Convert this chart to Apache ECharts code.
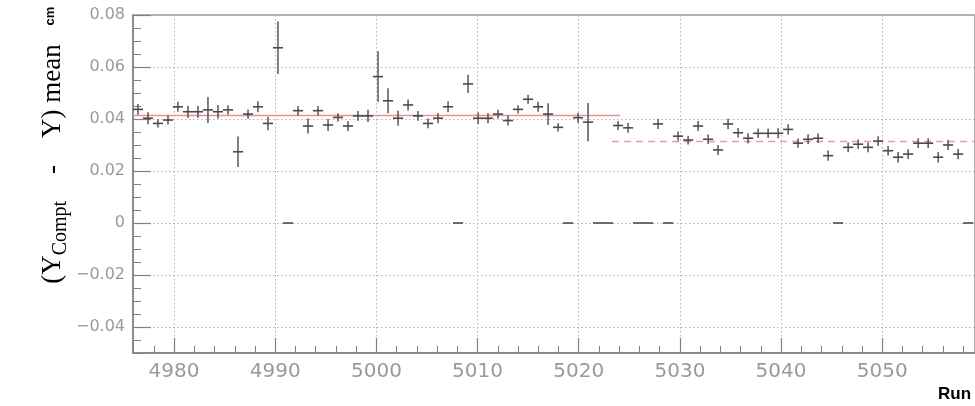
<!DOCTYPE html>
<html><head><meta charset="utf-8">
<script src="https://cdn.jsdelivr.net/npm/echarts@6/dist/echarts.min.js"></script>
<style>html,body{margin:0;padding:0;background:#fff}#c{width:975px;height:406px}</style>
</head><body><div id="c"></div>
<script>
// bin centres (run axis)
const binCenter = [
 4976.43,4977.42,4978.41,4979.40,4980.38,4981.37,4982.36,4983.35,4984.34,4985.33,
 4986.32,4987.31,4988.29,4989.28,4990.27,4991.26,4992.25,4993.24,4994.23,4995.22,
 4996.20,4997.19,4998.18,4999.17,5000.16,5001.15,5002.14,5003.13,5004.11,5005.10,
 5006.09,5007.08,5008.07,5009.06,5010.05,5011.03,5012.02,5013.01,5014.00,5014.99,
 5015.98,5016.97,5017.96,5018.94,5019.93,5020.92,5021.91,5022.90,5023.89,5024.88,
 5025.87,5026.85,5027.84,5028.83,5029.82,5030.81,5031.80,5032.79,5033.77,5034.76,
 5035.75,5036.74,5037.73,5038.72,5039.71,5040.70,5041.68,5042.67,5043.66,5044.65,
 5045.64,5046.63,5047.62,5048.60,5049.59,5050.58,5051.57,5052.56,5053.55,5054.54,
 5055.53,5056.51,5057.50,5058.49
];
// (Y_Compt - Y) mean per run, cm
const meanValue = [
 0.0437,0.0403,0.0383,0.0396,0.0447,0.0428,0.0428,0.0435,0.0428,0.0435,
 0.0274,0.0419,0.0447,0.0383,0.0674,0,0.0432,0.0373,0.0432,0.0377,
 0.0406,0.0373,0.0412,0.0412,0.0563,0.0470,0.0403,0.0454,0.0412,0.0383,
 0.0403,0.0447,0,0.0535,0.0403,0.0403,0.0419,0.0394,0.0437,0.0476,
 0.0447,0.0419,0.0368,0,0.0405,0.0388,0,0,0.0375,0.0366,
 0,0,0.0381,0,0.0334,0.0319,0.0373,0.0322,0.0281,0.0381,
 0.0347,0.0326,0.0345,0.0345,0.0345,0.0360,0.0307,0.0322,0.0326,0.0259,
 0,0.0291,0.0303,0.0291,0.0315,0.0278,0.0253,0.0265,0.0307,0.0307,
 0.0253,0.0300,0.0265,0
];
// error on the mean, cm
const meanError = [
 0.0021,0.0023,0.0016,0.0017,0.0019,0.0023,0.0023,0.0050,0.0026,0.0018,
 0.0059,0.0018,0.0021,0.0026,0.0101,0,0.0018,0.0029,0.0018,0.0023,
 0.0016,0.0019,0.0019,0.0024,0.0098,0.0048,0.0029,0.0021,0.0019,0.0019,
 0.0019,0.0021,0,0.0035,0.0022,0.0019,0.0017,0.0019,0.0016,0.0017,
 0.0019,0.0042,0.0016,0,0.0019,0.0074,0,0,0.0017,0.0019,
 0,0,0.0019,0,0.0018,0.0017,0.0019,0.0018,0.0019,0.0020,
 0.0018,0.0019,0.0018,0.0018,0.0019,0.0020,0.0018,0.0019,0.0018,0.0020,
 0,0.0019,0.0018,0.0019,0.0019,0.0018,0.0020,0.0019,0.0019,0.0019,
 0.0020,0.0019,0.0020,0
];
const binHalfWidth = 0.5;
// fitted means of the two periods
const fitStart = [4975.9, 5023.3];
const fitEnd   = [5024.1, 5060.0];
const fitValue = [0.0413, 0.0313];
// ticks
const xMajorTicks = [4980,4990,5000,5010,5020,5030,5040,5050];
const xMinorTicks = [4976,4978,4980,4982,4984,4986,4988,4990,4992,4994,4996,4998,5000,5002,5004,5006,5008,5010,5012,5014,5016,5018,5020,5022,5024,5026,5028,5030,5032,5034,5036,5038,5040,5042,5044,5046,5048,5050,5052,5054,5056,5058];
const yMajorTicks = [-0.04,-0.02,0,0.02,0.04,0.06,0.08];
const yMinorTicks = [-0.05,-0.045,-0.04,-0.035,-0.03,-0.025,-0.02,-0.015,-0.01,-0.005,0,0.005,0.01,0.015,0.02,0.025,0.03,0.035,0.04,0.045,0.05,0.055,0.06,0.065,0.07,0.075,0.08];

const X_MIN = 4975.94, X_MAX = 5059.17, Y_MIN = -0.05, Y_MAX = 0.08;
const AX = '#808080', LBL = '#9a9a9a', GRIDC = '#b4b4b4';

const chart = echarts.init(document.getElementById('c'));
const xBase = {type:'value', min:X_MIN, max:X_MAX, position:'bottom', gridIndex:0};
const yBase = {type:'value', min:Y_MIN, max:Y_MAX, position:'left', gridIndex:0};
const option = {
  animation:false,
  grid:{left:133, top:15, right:-5, bottom:53, show:true, borderColor:'#9a9a9a', borderWidth:1.5},
  xAxis:[
    Object.assign({}, xBase, {
      axisLine:{show:true, onZero:false, lineStyle:{color:AX, width:1.5}},
      axisTick:{show:true, inside:true, length:7, customValues:xMinorTicks, lineStyle:{color:AX, width:1}},
      axisLabel:{show:false}, splitLine:{show:false}
    }),
    Object.assign({}, xBase, {
      axisLine:{show:false, onZero:false},
      axisTick:{show:true, inside:true, length:15, customValues:xMajorTicks, lineStyle:{color:AX, width:1.2}},
      axisLabel:{show:true, customValues:xMajorTicks, margin:9, color:LBL, fontFamily:'DejaVu Sans', fontSize:20,
        formatter:function(v){ return String(Math.round(v)); }},
      splitLine:{show:true, lineStyle:{color:GRIDC, width:1, type:[1.5,2.5]}}
    })
  ],
  yAxis:[
    Object.assign({}, yBase, {
      axisLine:{show:true, onZero:false, lineStyle:{color:AX, width:1.5}},
      axisTick:{show:true, inside:true, length:8, customValues:yMinorTicks, lineStyle:{color:AX, width:1}},
      axisLabel:{show:false}, splitLine:{show:false}
    }),
    Object.assign({}, yBase, {
      axisLine:{show:false, onZero:false},
      axisTick:{show:true, inside:true, length:18, customValues:yMajorTicks, lineStyle:{color:AX, width:1.2}},
      axisLabel:{show:true, customValues:yMajorTicks, margin:8, color:LBL, fontFamily:'DejaVu Sans', fontSize:16,
        formatter:function(v){ if (Math.abs(v) < 1e-9) return '0'; return (v<0?'\u2212':'') + Math.abs(v).toFixed(2); }},
      splitLine:{show:true, lineStyle:{color:GRIDC, width:1, type:[1.5,2.5]}}
    })
  ],
  series:[
    {
      type:'line', xAxisIndex:0, yAxisIndex:0, symbol:'none', silent:true, z:3,
      data:[[fitStart[0], fitValue[0]],[fitEnd[0], fitValue[0]]],
      lineStyle:{color:'#f08f8f', width:1.5, type:'solid'}
    },
    {
      type:'line', xAxisIndex:0, yAxisIndex:0, symbol:'none', silent:true, z:3,
      data:[[fitStart[1], fitValue[1]],[fitEnd[1], fitValue[1]]],
      lineStyle:{color:'#ec9a9a', width:1.5, type:[7,5]}
    },
    {
      type:'custom', xAxisIndex:0, yAxisIndex:0, z:4, clip:true,
      data: binCenter.map(function(x,i){ return [x, meanValue[i], meanError[i]]; }),
      encode:{x:0, y:1},
      renderItem:function(params, api){
        const x = api.value(0), v = api.value(1), e = api.value(2);
        const l = api.coord([x - binHalfWidth, v]);
        const r = api.coord([x + binHalfWidth, v]);
        const children = [{type:'line', shape:{x1:l[0], y1:l[1], x2:r[0], y2:r[1]},
          style:{stroke:'#4a4a4a', lineWidth:1.6}}];
        if (e > 0) {
          const t = api.coord([x, v + e]);
          const b = api.coord([x, v - e]);
          children.push({type:'line', shape:{x1:t[0], y1:t[1], x2:b[0], y2:b[1]},
            style:{stroke:'#4a4a4a', lineWidth:1.4}});
        }
        return {type:'group', children:children};
      }
    }
  ],
  graphic:[
    {type:'text', x:55, y:164, rotation:Math.PI/2, silent:true,
     style:{text:'{n|(Y}{s|Compt}{n|    -    Y) mean}', align:'center', verticalAlign:'middle',
       rich:{
         n:{fontFamily:'Liberation Serif', fontSize:27, fill:'#000', lineHeight:28, verticalAlign:'top'},
         s:{fontFamily:'Liberation Serif', fontSize:20, fill:'#000', lineHeight:31, verticalAlign:'bottom'}
       }}},
    {type:'text', x:50, y:16, rotation:Math.PI/2, silent:true,
     style:{text:'cm', align:'center', verticalAlign:'middle', fontFamily:'Liberation Sans', fontWeight:'bold', fontSize:13, fill:'#000'}},
    {type:'text', x:938, y:394, silent:true,
     style:{text:'Run', align:'left', verticalAlign:'middle', fontFamily:'Liberation Sans', fontWeight:'bold', fontSize:17, fill:'#000'}}
  ]
};
chart.setOption(option);
</script>
</body></html>
